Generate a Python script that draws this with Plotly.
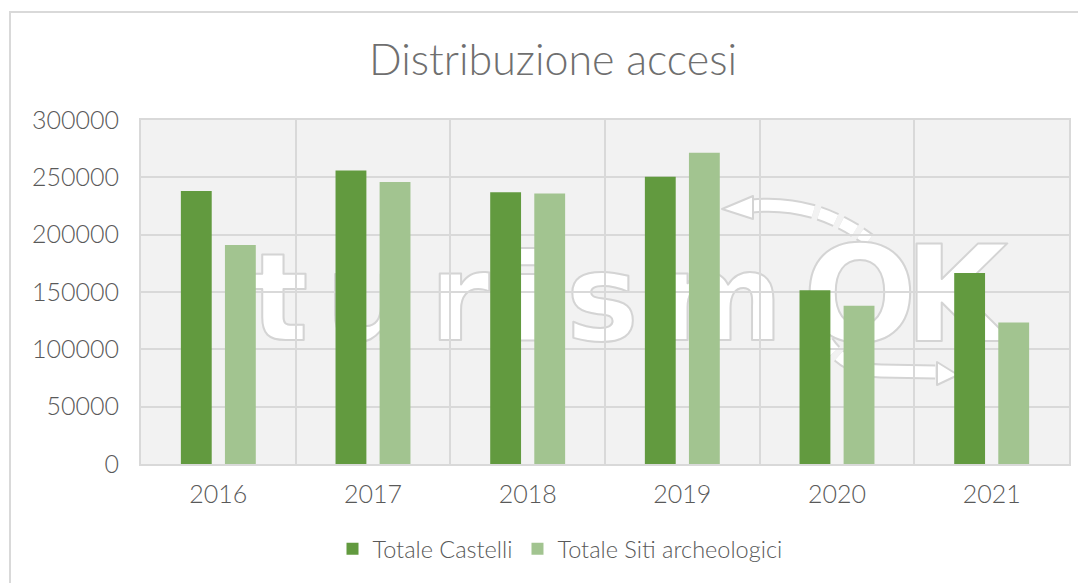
import base64
import plotly.graph_objects as go

# ---- data ----
years = ["2016", "2017", "2018", "2019", "2020", "2021"]
castelli = [238000, 256000, 237000, 250500, 151500, 166500]
siti = [191000, 246000, 236000, 271500, 138000, 123500]
series_names = ["Totale Castelli", "Totale Siti archeologici"]
title_text = "Distribuzione accesi"
y_ticks = [0, 50000, 100000, 150000, 200000, 250000, 300000]

# ---- styles ----
DARK = "#629a3f"
LIGHT = "#a2c490"
GRID = "#d9d9d9"
TXT = "#595959"
FONT = "Lato Light, Open Sans Light, Lato"

# the page places the figure 8px from the top-left corner
OFF = 8
W, H = 1086 - OFF, 583 - OFF
L, T, R, B = 141 - OFF, 120 - OFF, 1069 - OFF, 464 - OFF
pw, ph = R - L, B - T

# watermark (decoration) as SVG image in plot-area pixel coords
svg = f'''<svg xmlns="http://www.w3.org/2000/svg" width="{pw}" height="{ph}" viewBox="0 0 {pw} {ph}">
<g fill="none" stroke-linejoin="round">
<path d="M611,86 Q675,80 728,120" stroke="#d4d4d4" stroke-width="15" stroke-dasharray="62,6,18,6,16,6,14"/>
<path d="M611,86 Q675,80 728,120" stroke="#ffffff" stroke-width="11" stroke-dasharray="62,6,18,6,16,6,14"/>
<path d="M686,222 Q705,250 740,251 L798,252" stroke="#d4d4d4" stroke-width="15" stroke-dasharray="12,6,14,6,80"/>
<path d="M686,222 Q705,250 740,251 L798,252" stroke="#ffffff" stroke-width="11" stroke-dasharray="12,6,14,6,80"/>
<polygon points="581,89 612,76 612,99" fill="#ffffff" stroke="#d4d4d4" stroke-width="2"/>
<polygon points="817,255 796,242 796,265" fill="#ffffff" stroke="#d4d4d4" stroke-width="2"/>
</g>
<text x="109" y="220" font-family="DejaVu Sans" font-weight="bold" font-size="122" textLength="533" lengthAdjust="spacing" fill="#ffffff" stroke="#d4d4d4" stroke-width="2" stroke-linejoin="round">turism</text>
<text x="662" y="221" font-family="DejaVu Sans" font-weight="bold" font-size="134" textLength="205" lengthAdjust="spacing" fill="#ffffff" stroke="#d4d4d4" stroke-width="2" stroke-linejoin="round">OK</text>
</svg>'''
svg_uri = "data:image/svg+xml;base64," + base64.b64encode(svg.encode("utf-8")).decode("ascii")

fig = go.Figure()
fig.add_trace(go.Bar(x=years, y=castelli, name=series_names[0], marker=dict(color=DARK, line=dict(width=0))))
fig.add_trace(go.Bar(x=years, y=siti, name=series_names[1], marker=dict(color=LIGHT, line=dict(width=0))))

fig.update_layout(
    width=W, height=H,
    margin=dict(l=L, r=W - R, t=T, b=H - B, autoexpand=False),
    paper_bgcolor="white",
    plot_bgcolor="#f2f2f2",
    barmode="group",
    bargap=0.43,
    bargroupgap=0.3,
    font=dict(family=FONT, color=TXT, size=22, weight=300),
    title=dict(
        text=title_text,
        x=(553 - OFF) / W, xanchor="center",
        y=1 - (60 - OFF) / H, yanchor="middle", yref="container",
        font=dict(family=FONT, size=43, color="#6f6f6f", weight=300),
    ),
    legend=dict(
        orientation="h",
        x=(560 - 141) / pw, xanchor="center",
        y=(464 - 549) / ph, yanchor="middle",
        font=dict(family=FONT, size=23.5, color=TXT, weight=300),
        bgcolor="rgba(0,0,0,0)",
        itemwidth=30,
    ),
    showlegend=True,
    images=[dict(
        source=svg_uri, xref="paper", yref="paper",
        x=0, y=1, sizex=1, sizey=1, xanchor="left", yanchor="top",
        sizing="stretch", layer="below",
    )],
    shapes=[dict(
        type="rect", xref="paper", yref="paper",
        x0=(10 - 141) / pw, x1=(1110 - 141) / pw,
        y0=(464 - 600) / ph, y1=(464 - 12) / ph,
        line=dict(color=GRID, width=2), fillcolor="rgba(0,0,0,0)", layer="below",
    )],
)

fig.update_xaxes(
    type="category",
    tickson="boundaries",
    showgrid=True, gridcolor=GRID, gridwidth=2,
    showline=True, linecolor=GRID, linewidth=2, mirror=True,
    ticks="", ticklabelstandoff=7,
    tickfont=dict(family=FONT, size=25, color=TXT, weight=300),
)
fig.update_yaxes(
    range=[0, 300000],
    tickvals=y_ticks,
    tickformat="d",
    showgrid=True, gridcolor=GRID, gridwidth=2,
    showline=True, linecolor=GRID, linewidth=2, mirror=True,
    zeroline=False,
    ticks="", ticklabelstandoff=15,
    tickfont=dict(family=FONT, size=25, color=TXT, weight=300),
)

fig.write_html("out.html")
